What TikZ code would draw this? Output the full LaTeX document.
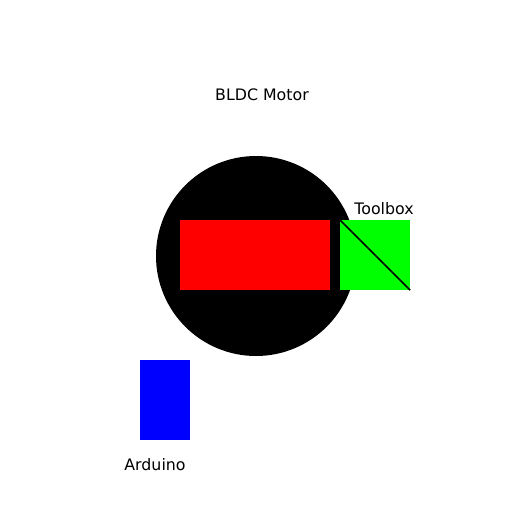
\documentclass[tikz,border=0pt]{standalone}
\usepackage{fontspec}
\setmainfont{DejaVu Sans}
\begin{document}
\begin{tikzpicture}[x=1pt,y=-1pt,
  lbl/.style={inner sep=0pt,font=\fontsize{15.8}{18}\selectfont}]
\useasboundingbox[fill=white] (0,0) rectangle (512,512);
\fill[black] (256,256) circle[radius=100];
\node[draw=none,fill=red,minimum width=150pt,minimum height=70pt,inner sep=0pt] (motorcore) at (255,255) {};
\node[draw=none,fill=green,minimum width=70pt,minimum height=70pt,inner sep=0pt] (toolbox) at (375,255) {};
\draw[black,line width=1.5pt] (toolbox.north west) -- (toolbox.south east);
\node[draw=none,fill=blue,minimum width=50pt,minimum height=80pt,inner sep=0pt] (arduino) at (165,400) {};
\node[lbl] (tmotor) at (262,95) {BLDC Motor};
\node[lbl] (ttool) at (384,209) {Toolbox};
\node[lbl] (tard) at (155,465) {Arduino};
\end{tikzpicture}
\end{document}
